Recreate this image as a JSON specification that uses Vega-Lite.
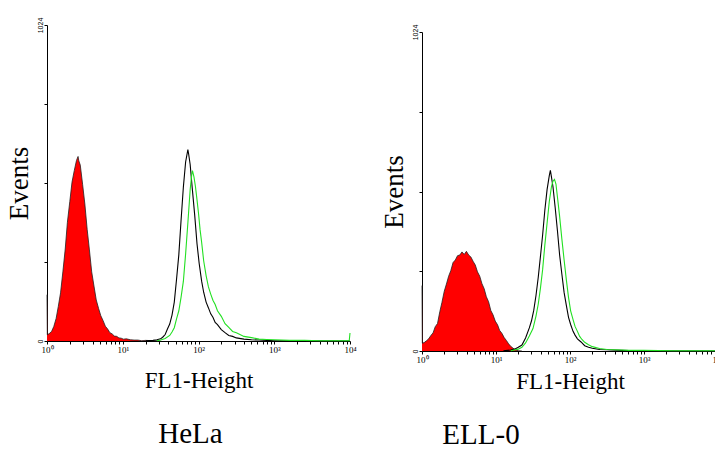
{
  "$schema": "https://vega.github.io/schema/vega-lite/v6.json",
  "padding": {"left": 5, "top": 17, "right": 0, "bottom": 0},
  "background": "white",
  "config": {
    "view": {"stroke": null},
    "font": "Liberation Serif",
    "axis": {
      "grid": false,
      "domainColor": "#000000",
      "domainWidth": 1,
      "tickColor": "#000000",
      "tickWidth": 1,
      "labelColor": "#000000",
      "titleColor": "#000000",
      "titleFontWeight": "normal"
    },
    "title": {"fontWeight": "normal", "color": "#000000", "font": "Liberation Serif"}
  },
  "datasets": {
    "hela": [
      {"fl1": 1.00, "events": 150, "sample": "control"},
      {"fl1": 1.01, "events": 20, "sample": "control"},
      {"fl1": 1.07, "events": 24, "sample": "control"},
      {"fl1": 1.15, "events": 31, "sample": "control"},
      {"fl1": 1.23, "events": 47, "sample": "control"},
      {"fl1": 1.32, "events": 73, "sample": "control"},
      {"fl1": 1.41, "events": 112, "sample": "control"},
      {"fl1": 1.51, "events": 156, "sample": "control"},
      {"fl1": 1.62, "events": 224, "sample": "control"},
      {"fl1": 1.74, "events": 298, "sample": "control"},
      {"fl1": 1.86, "events": 385, "sample": "control"},
      {"fl1": 2.00, "events": 452, "sample": "control"},
      {"fl1": 2.14, "events": 515, "sample": "control"},
      {"fl1": 2.29, "events": 552, "sample": "control"},
      {"fl1": 2.45, "events": 585, "sample": "control"},
      {"fl1": 2.57, "events": 598, "sample": "control"},
      {"fl1": 2.63, "events": 584, "sample": "control"},
      {"fl1": 2.75, "events": 570, "sample": "control"},
      {"fl1": 2.95, "events": 508, "sample": "control"},
      {"fl1": 3.16, "events": 444, "sample": "control"},
      {"fl1": 3.39, "events": 362, "sample": "control"},
      {"fl1": 3.63, "events": 295, "sample": "control"},
      {"fl1": 3.89, "events": 224, "sample": "control"},
      {"fl1": 4.17, "events": 178, "sample": "control"},
      {"fl1": 4.47, "events": 133, "sample": "control"},
      {"fl1": 4.79, "events": 106, "sample": "control"},
      {"fl1": 5.13, "events": 82, "sample": "control"},
      {"fl1": 5.50, "events": 66, "sample": "control"},
      {"fl1": 5.89, "events": 48, "sample": "control"},
      {"fl1": 6.31, "events": 39, "sample": "control"},
      {"fl1": 6.76, "events": 27, "sample": "control"},
      {"fl1": 7.24, "events": 23, "sample": "control"},
      {"fl1": 7.76, "events": 16, "sample": "control"},
      {"fl1": 8.32, "events": 15, "sample": "control"},
      {"fl1": 8.91, "events": 10, "sample": "control"},
      {"fl1": 9.55, "events": 9, "sample": "control"},
      {"fl1": 10.2, "events": 6, "sample": "control"},
      {"fl1": 11.2, "events": 7, "sample": "control"},
      {"fl1": 12.6, "events": 4, "sample": "control"},
      {"fl1": 14.1, "events": 3, "sample": "control"},
      {"fl1": 15.8, "events": 3, "sample": "control"},
      {"fl1": 17.8, "events": 1, "sample": "control"},
      {"fl1": 20.0, "events": 2, "sample": "control"},
      {"fl1": 25.1, "events": 1, "sample": "control"},
      {"fl1": 31.6, "events": 0, "sample": "control"},

      {"fl1": 20.0, "events": 1, "sample": "stain1"},
      {"fl1": 25.1, "events": 2, "sample": "stain1"},
      {"fl1": 28.2, "events": 4, "sample": "stain1"},
      {"fl1": 31.6, "events": 7, "sample": "stain1"},
      {"fl1": 33.9, "events": 13, "sample": "stain1"},
      {"fl1": 36.3, "events": 21, "sample": "stain1"},
      {"fl1": 38.9, "events": 39, "sample": "stain1"},
      {"fl1": 41.7, "events": 55, "sample": "stain1"},
      {"fl1": 44.7, "events": 84, "sample": "stain1"},
      {"fl1": 47.9, "events": 126, "sample": "stain1"},
      {"fl1": 51.3, "events": 200, "sample": "stain1"},
      {"fl1": 55.0, "events": 280, "sample": "stain1"},
      {"fl1": 58.9, "events": 392, "sample": "stain1"},
      {"fl1": 63.1, "events": 498, "sample": "stain1"},
      {"fl1": 67.6, "events": 580, "sample": "stain1"},
      {"fl1": 72.4, "events": 620, "sample": "stain1"},
      {"fl1": 74.1, "events": 606, "sample": "stain1"},
      {"fl1": 77.6, "events": 572, "sample": "stain1"},
      {"fl1": 83.2, "events": 488, "sample": "stain1"},
      {"fl1": 89.1, "events": 408, "sample": "stain1"},
      {"fl1": 95.5, "events": 316, "sample": "stain1"},
      {"fl1": 102, "events": 252, "sample": "stain1"},
      {"fl1": 110, "events": 194, "sample": "stain1"},
      {"fl1": 117, "events": 158, "sample": "stain1"},
      {"fl1": 126, "events": 126, "sample": "stain1"},
      {"fl1": 135, "events": 108, "sample": "stain1"},
      {"fl1": 145, "events": 88, "sample": "stain1"},
      {"fl1": 155, "events": 77, "sample": "stain1"},
      {"fl1": 166, "events": 60, "sample": "stain1"},
      {"fl1": 178, "events": 53, "sample": "stain1"},
      {"fl1": 200, "events": 37, "sample": "stain1"},
      {"fl1": 224, "events": 27, "sample": "stain1"},
      {"fl1": 251, "events": 18, "sample": "stain1"},
      {"fl1": 282, "events": 15, "sample": "stain1"},
      {"fl1": 316, "events": 10, "sample": "stain1"},
      {"fl1": 398, "events": 6, "sample": "stain1"},
      {"fl1": 501, "events": 4, "sample": "stain1"},
      {"fl1": 631, "events": 3, "sample": "stain1"},
      {"fl1": 794, "events": 2, "sample": "stain1"},
      {"fl1": 1000, "events": 1, "sample": "stain1"},
      {"fl1": 2512, "events": 1, "sample": "stain1"},
      {"fl1": 10000, "events": 0, "sample": "stain1"},

      {"fl1": 28.2, "events": 1, "sample": "stain2"},
      {"fl1": 31.6, "events": 3, "sample": "stain2"},
      {"fl1": 36.3, "events": 8, "sample": "stain2"},
      {"fl1": 41.7, "events": 18, "sample": "stain2"},
      {"fl1": 44.7, "events": 29, "sample": "stain2"},
      {"fl1": 47.9, "events": 43, "sample": "stain2"},
      {"fl1": 51.3, "events": 72, "sample": "stain2"},
      {"fl1": 55.0, "events": 98, "sample": "stain2"},
      {"fl1": 58.9, "events": 142, "sample": "stain2"},
      {"fl1": 63.1, "events": 193, "sample": "stain2"},
      {"fl1": 67.6, "events": 282, "sample": "stain2"},
      {"fl1": 72.4, "events": 383, "sample": "stain2"},
      {"fl1": 77.6, "events": 490, "sample": "stain2"},
      {"fl1": 81.3, "events": 538, "sample": "stain2"},
      {"fl1": 83.2, "events": 552, "sample": "stain2"},
      {"fl1": 87.1, "events": 532, "sample": "stain2"},
      {"fl1": 91.2, "events": 500, "sample": "stain2"},
      {"fl1": 95.5, "events": 458, "sample": "stain2"},
      {"fl1": 100, "events": 414, "sample": "stain2"},
      {"fl1": 105, "events": 360, "sample": "stain2"},
      {"fl1": 110, "events": 320, "sample": "stain2"},
      {"fl1": 117, "events": 260, "sample": "stain2"},
      {"fl1": 126, "events": 212, "sample": "stain2"},
      {"fl1": 135, "events": 176, "sample": "stain2"},
      {"fl1": 145, "events": 152, "sample": "stain2"},
      {"fl1": 155, "events": 132, "sample": "stain2"},
      {"fl1": 166, "events": 118, "sample": "stain2"},
      {"fl1": 178, "events": 98, "sample": "stain2"},
      {"fl1": 200, "events": 80, "sample": "stain2"},
      {"fl1": 224, "events": 56, "sample": "stain2"},
      {"fl1": 251, "events": 44, "sample": "stain2"},
      {"fl1": 282, "events": 31, "sample": "stain2"},
      {"fl1": 316, "events": 27, "sample": "stain2"},
      {"fl1": 398, "events": 15, "sample": "stain2"},
      {"fl1": 501, "events": 11, "sample": "stain2"},
      {"fl1": 631, "events": 6, "sample": "stain2"},
      {"fl1": 794, "events": 5, "sample": "stain2"},
      {"fl1": 1000, "events": 4, "sample": "stain2"},
      {"fl1": 1585, "events": 2, "sample": "stain2"},
      {"fl1": 2512, "events": 2, "sample": "stain2"},
      {"fl1": 3981, "events": 1, "sample": "stain2"},
      {"fl1": 6310, "events": 1, "sample": "stain2"},
      {"fl1": 9772, "events": 1, "sample": "stain2"},
      {"fl1": 10000, "events": 26, "sample": "stain2"}
    ],
    "ell0": [
      {"fl1": 1.00, "events": 210, "sample": "control"},
      {"fl1": 1.01, "events": 25, "sample": "control"},
      {"fl1": 1.07, "events": 27, "sample": "control"},
      {"fl1": 1.15, "events": 33, "sample": "control"},
      {"fl1": 1.23, "events": 39, "sample": "control"},
      {"fl1": 1.32, "events": 50, "sample": "control"},
      {"fl1": 1.41, "events": 58, "sample": "control"},
      {"fl1": 1.51, "events": 78, "sample": "control"},
      {"fl1": 1.62, "events": 88, "sample": "control"},
      {"fl1": 1.74, "events": 126, "sample": "control"},
      {"fl1": 1.86, "events": 156, "sample": "control"},
      {"fl1": 2.00, "events": 192, "sample": "control"},
      {"fl1": 2.14, "events": 215, "sample": "control"},
      {"fl1": 2.29, "events": 240, "sample": "control"},
      {"fl1": 2.45, "events": 258, "sample": "control"},
      {"fl1": 2.63, "events": 284, "sample": "control"},
      {"fl1": 2.82, "events": 292, "sample": "control"},
      {"fl1": 3.02, "events": 306, "sample": "control"},
      {"fl1": 3.24, "events": 308, "sample": "control"},
      {"fl1": 3.47, "events": 318, "sample": "control"},
      {"fl1": 3.72, "events": 310, "sample": "control"},
      {"fl1": 3.98, "events": 320, "sample": "control"},
      {"fl1": 4.27, "events": 308, "sample": "control"},
      {"fl1": 4.57, "events": 302, "sample": "control"},
      {"fl1": 4.90, "events": 288, "sample": "control"},
      {"fl1": 5.25, "events": 276, "sample": "control"},
      {"fl1": 5.62, "events": 254, "sample": "control"},
      {"fl1": 6.03, "events": 240, "sample": "control"},
      {"fl1": 6.46, "events": 216, "sample": "control"},
      {"fl1": 6.92, "events": 200, "sample": "control"},
      {"fl1": 7.41, "events": 174, "sample": "control"},
      {"fl1": 7.94, "events": 158, "sample": "control"},
      {"fl1": 8.51, "events": 130, "sample": "control"},
      {"fl1": 9.12, "events": 116, "sample": "control"},
      {"fl1": 9.77, "events": 96, "sample": "control"},
      {"fl1": 10.5, "events": 84, "sample": "control"},
      {"fl1": 11.2, "events": 66, "sample": "control"},
      {"fl1": 12.0, "events": 57, "sample": "control"},
      {"fl1": 12.9, "events": 43, "sample": "control"},
      {"fl1": 13.8, "events": 34, "sample": "control"},
      {"fl1": 14.8, "events": 23, "sample": "control"},
      {"fl1": 15.8, "events": 15, "sample": "control"},
      {"fl1": 17.0, "events": 9, "sample": "control"},
      {"fl1": 18.2, "events": 4, "sample": "control"},
      {"fl1": 20.0, "events": 1, "sample": "control"},
      {"fl1": 22.4, "events": 0, "sample": "control"},

      {"fl1": 12.6, "events": 1, "sample": "stain1"},
      {"fl1": 15.8, "events": 3, "sample": "stain1"},
      {"fl1": 17.8, "events": 6, "sample": "stain1"},
      {"fl1": 20.0, "events": 12, "sample": "stain1"},
      {"fl1": 22.4, "events": 19, "sample": "stain1"},
      {"fl1": 25.1, "events": 42, "sample": "stain1"},
      {"fl1": 28.2, "events": 74, "sample": "stain1"},
      {"fl1": 30.2, "events": 97, "sample": "stain1"},
      {"fl1": 32.4, "events": 131, "sample": "stain1"},
      {"fl1": 34.7, "events": 178, "sample": "stain1"},
      {"fl1": 37.2, "events": 236, "sample": "stain1"},
      {"fl1": 39.8, "events": 302, "sample": "stain1"},
      {"fl1": 42.7, "events": 373, "sample": "stain1"},
      {"fl1": 45.7, "events": 452, "sample": "stain1"},
      {"fl1": 49.0, "events": 518, "sample": "stain1"},
      {"fl1": 52.5, "events": 563, "sample": "stain1"},
      {"fl1": 54.3, "events": 580, "sample": "stain1"},
      {"fl1": 56.2, "events": 558, "sample": "stain1"},
      {"fl1": 58.9, "events": 527, "sample": "stain1"},
      {"fl1": 63.1, "events": 460, "sample": "stain1"},
      {"fl1": 67.6, "events": 387, "sample": "stain1"},
      {"fl1": 72.4, "events": 308, "sample": "stain1"},
      {"fl1": 77.6, "events": 247, "sample": "stain1"},
      {"fl1": 83.2, "events": 188, "sample": "stain1"},
      {"fl1": 89.1, "events": 147, "sample": "stain1"},
      {"fl1": 95.5, "events": 108, "sample": "stain1"},
      {"fl1": 102, "events": 85, "sample": "stain1"},
      {"fl1": 110, "events": 63, "sample": "stain1"},
      {"fl1": 117, "events": 51, "sample": "stain1"},
      {"fl1": 126, "events": 39, "sample": "stain1"},
      {"fl1": 141, "events": 29, "sample": "stain1"},
      {"fl1": 158, "events": 17, "sample": "stain1"},
      {"fl1": 178, "events": 12, "sample": "stain1"},
      {"fl1": 200, "events": 9, "sample": "stain1"},
      {"fl1": 251, "events": 5, "sample": "stain1"},
      {"fl1": 316, "events": 4, "sample": "stain1"},
      {"fl1": 501, "events": 2, "sample": "stain1"},
      {"fl1": 794, "events": 1, "sample": "stain1"},
      {"fl1": 1585, "events": 1, "sample": "stain1"},
      {"fl1": 10000, "events": 0, "sample": "stain1"},

      {"fl1": 15.8, "events": 1, "sample": "stain2"},
      {"fl1": 20.0, "events": 6, "sample": "stain2"},
      {"fl1": 22.4, "events": 12, "sample": "stain2"},
      {"fl1": 25.1, "events": 26, "sample": "stain2"},
      {"fl1": 28.2, "events": 48, "sample": "stain2"},
      {"fl1": 31.6, "events": 72, "sample": "stain2"},
      {"fl1": 34.7, "events": 112, "sample": "stain2"},
      {"fl1": 37.2, "events": 150, "sample": "stain2"},
      {"fl1": 39.8, "events": 200, "sample": "stain2"},
      {"fl1": 42.7, "events": 262, "sample": "stain2"},
      {"fl1": 45.7, "events": 340, "sample": "stain2"},
      {"fl1": 49.0, "events": 410, "sample": "stain2"},
      {"fl1": 52.5, "events": 480, "sample": "stain2"},
      {"fl1": 56.2, "events": 528, "sample": "stain2"},
      {"fl1": 58.9, "events": 545, "sample": "stain2"},
      {"fl1": 61.7, "events": 551, "sample": "stain2"},
      {"fl1": 64.6, "events": 536, "sample": "stain2"},
      {"fl1": 67.6, "events": 495, "sample": "stain2"},
      {"fl1": 72.4, "events": 432, "sample": "stain2"},
      {"fl1": 77.6, "events": 360, "sample": "stain2"},
      {"fl1": 83.2, "events": 293, "sample": "stain2"},
      {"fl1": 89.1, "events": 230, "sample": "stain2"},
      {"fl1": 95.5, "events": 172, "sample": "stain2"},
      {"fl1": 102, "events": 129, "sample": "stain2"},
      {"fl1": 110, "events": 101, "sample": "stain2"},
      {"fl1": 117, "events": 79, "sample": "stain2"},
      {"fl1": 126, "events": 63, "sample": "stain2"},
      {"fl1": 135, "events": 47, "sample": "stain2"},
      {"fl1": 145, "events": 37, "sample": "stain2"},
      {"fl1": 158, "events": 28, "sample": "stain2"},
      {"fl1": 178, "events": 20, "sample": "stain2"},
      {"fl1": 200, "events": 14, "sample": "stain2"},
      {"fl1": 251, "events": 8, "sample": "stain2"},
      {"fl1": 316, "events": 5, "sample": "stain2"},
      {"fl1": 398, "events": 4, "sample": "stain2"},
      {"fl1": 631, "events": 2, "sample": "stain2"},
      {"fl1": 1000, "events": 2, "sample": "stain2"},
      {"fl1": 2512, "events": 1, "sample": "stain2"},
      {"fl1": 6310, "events": 1, "sample": "stain2"},
      {"fl1": 9550, "events": 1, "sample": "stain2"},
      {"fl1": 10000, "events": 30, "sample": "stain2"}
    ]
  },
  "spacing": 23,
  "hconcat": [
    {
      "width": 303,
      "height": 316,
      "title": {"text": "HeLa", "orient": "bottom", "fontSize": 29, "offset": 28, "dx": -8},
      "data": {"name": "hela"},
      "encoding": {
        "x": {
          "field": "fl1", "type": "quantitative",
          "scale": {"type": "log", "domain": [1, 10000], "nice": false},
          "axis": {
            "title": "FL1-Height", "titleFontSize": 23, "titlePadding": 15,
            "values": [1,2,3,4,5,6,7,8,9,10,20,30,40,50,60,70,80,90,100,200,300,400,500,600,700,800,900,1000,2000,3000,4000,5000,6000,7000,8000,9000,10000],
            "labelExpr": "datum.value === 1 ? '10⁰' : datum.value === 10 ? '10¹' : datum.value === 100 ? '10²' : datum.value === 1000 ? '10³' : datum.value === 10000 ? '10⁴' : ''",
            "labelFontSize": 9, "labelPadding": 1, "labelFlush": false, "labelOverlap": false, "tickSize": 3
          }
        },
        "y": {
          "field": "events", "type": "quantitative",
          "scale": {"domain": [0, 1024], "nice": false},
          "axis": {
            "title": "Events", "titleFontSize": 27, "titlePadding": 3,
            "values": [0, 256, 512, 768, 1024],
            "labelExpr": "datum.value === 1024 ? '1024' : datum.value === 0 ? '0' : ''",
            "labelAngle": 270, "labelAlign": "center", "labelBaseline": "bottom",
            "labelFont": "Liberation Sans", "labelFontSize": 7, "labelPadding": 1, "tickSize": 3
          }
        }
      },
      "layer": [
        {
          "transform": [{"filter": "datum.sample === 'control'"}],
          "mark": {"type": "area", "color": "#ff0000", "opacity": 1, "line": {"color": "#222222", "strokeWidth": 0.8}},
          "encoding": {}
        },
        {
          "transform": [{"filter": "datum.sample === 'stain1'"}],
          "mark": {"type": "line", "color": "#000000", "strokeWidth": 1.1},
          "encoding": {}
        },
        {
          "transform": [{"filter": "datum.sample === 'stain2'"}],
          "mark": {"type": "line", "color": "#22e022", "strokeWidth": 1.1},
          "encoding": {}
        }
      ]
    },
    {
      "bounds": "flush",
      "spacing": 6,
      "vconcat": [
        {
          "width": 296,
          "height": 1,
          "data": {"values": []},
          "mark": {"type": "point", "opacity": 0},
          "encoding": {}
        },
        {
          "width": 296,
          "height": 319,
          "title": {"text": "ELL-0", "orient": "bottom", "fontSize": 29, "offset": 28, "dx": -89},
          "data": {"name": "ell0"},
          "encoding": {
            "x": {
              "field": "fl1", "type": "quantitative",
              "scale": {"type": "log", "domain": [1, 10000], "nice": false},
              "axis": {
                "title": "FL1-Height", "titleFontSize": 23, "titlePadding": 6,
                "values": [1,2,3,4,5,6,7,8,9,10,20,30,40,50,60,70,80,90,100,200,300,400,500,600,700,800,900,1000,2000,3000,4000,5000,6000,7000,8000,9000,10000],
                "labelExpr": "datum.value === 1 ? '10⁰' : datum.value === 10 ? '10¹' : datum.value === 100 ? '10²' : datum.value === 1000 ? '10³' : datum.value === 10000 ? '10⁴' : ''",
                "labelFontSize": 9, "labelPadding": 1, "labelFlush": false, "labelOverlap": false, "tickSize": 3
              }
            },
            "y": {
              "field": "events", "type": "quantitative",
              "scale": {"domain": [0, 1024], "nice": false},
              "axis": {
                "title": "Events", "titleFontSize": 27, "titlePadding": 3,
                "values": [0, 256, 512, 768, 1024],
                "labelExpr": "datum.value === 1024 ? '1024' : datum.value === 0 ? '0' : ''",
                "labelAngle": 270, "labelAlign": "center", "labelBaseline": "bottom",
                "labelFont": "Liberation Sans", "labelFontSize": 7, "labelPadding": 1, "tickSize": 3
              }
            }
          },
          "layer": [
            {
              "transform": [{"filter": "datum.sample === 'control'"}],
              "mark": {"type": "area", "color": "#ff0000", "opacity": 1, "line": {"color": "#222222", "strokeWidth": 0.8}},
              "encoding": {}
            },
            {
              "transform": [{"filter": "datum.sample === 'stain1'"}],
              "mark": {"type": "line", "color": "#000000", "strokeWidth": 1.1},
              "encoding": {}
            },
            {
              "transform": [{"filter": "datum.sample === 'stain2'"}],
              "mark": {"type": "line", "color": "#22e022", "strokeWidth": 1.1},
              "encoding": {}
            }
          ]
        }
      ]
    }
  ]
}
